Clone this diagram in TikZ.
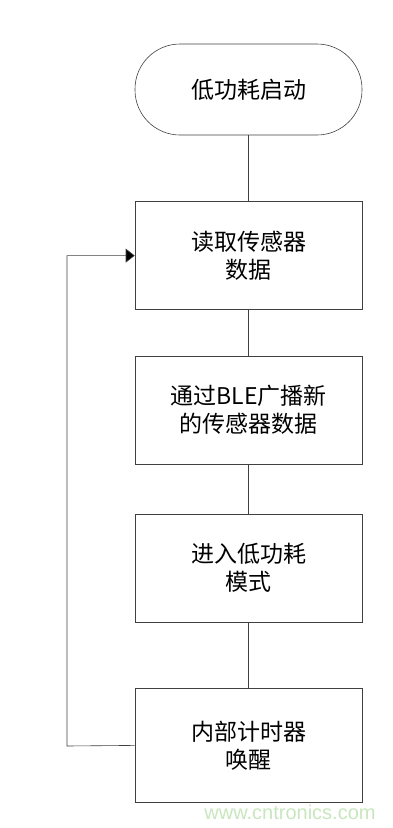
\documentclass[tikz,border=0pt]{standalone}
\usepackage{fontspec}
\setmainfont{Noto Sans CJK SC}
\newfontfamily\webfont{Liberation Sans}
\usepackage{xcolor}
\usetikzlibrary{arrows.meta,positioning}
\definecolor{edge}{HTML}{404040}
\definecolor{mark}{HTML}{C8E6BE}

\begin{document}
\begin{tikzpicture}[
  x=1pt, y=-1pt,
  node distance=46pt,
  stepbox/.style={draw=edge, semithick, align=center, font=\fontsize{23}{28}\selectfont,
                  minimum width=227pt, minimum height=108pt, inner sep=0pt},
  term/.style={stepbox, minimum height=91pt, rounded corners=45pt},
  link/.style={draw=edge, semithick},
  arrow/.style={link, -{Triangle[length=9pt, width=14pt, fill=black]}}
]
\useasboundingbox (0,0) rectangle (392,828);
\node[term] (start) at (248.5,89.5) {低功耗启动};
\node[stepbox, below=66pt of start] (read) {读取传感器\\数据};
\node[stepbox, below=of read] (send) {通过BLE广播新\\的传感器数据};
\node[stepbox, below=49pt of send] (sleep) {进入低功耗\\模式};
\node[stepbox, below=66pt of sleep, minimum height=114pt] (wake) {内部计时器\\唤醒};
\coordinate (back) at (67,746);

\draw[link] (start) -- (read);
\draw[link] (read) -- (send);
\draw[link] (send) -- (sleep);
\draw[link] (sleep) -- (wake);
\draw[arrow] (wake.west) -- (back) |- (read.west);

\node[anchor=base, text=mark, font=\webfont\fontsize{20}{20}\selectfont] (site) at (290,819) {www.cntronics.com};
\end{tikzpicture}
\end{document}
